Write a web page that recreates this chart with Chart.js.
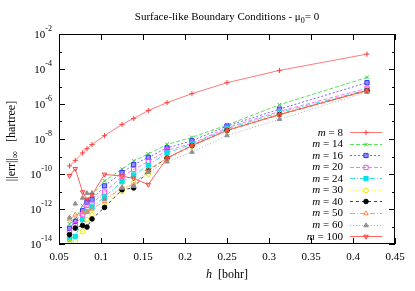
<!DOCTYPE html>
<html><head><meta charset="utf-8">
<script src="https://cdn.jsdelivr.net/npm/chart.js@4/dist/chart.umd.min.js"></script>
<style>html,body{margin:0;padding:0;background:#fff}</style>
</head><body>
<canvas id="c" width="415" height="291"></canvas>
<script>
// grid spacing h [bohr]
const hValues = [0.0625, 0.0694, 0.0781, 0.0833, 0.0893, 0.1042, 0.125, 0.1389, 0.1563, 0.1786, 0.2083, 0.25, 0.3125, 0.4167];
const seriesNames = ['8', '14', '16', '20', '24', '30', '40', '50', '60', '100'];
const m8   = [2.9e-10, 6.0e-10, 1.6e-9, 2.8e-9, 4.8e-9, 1.55e-8, 6.8e-8, 1.5e-7, 4.2e-7, 1.2e-6, 3.9e-6, 1.65e-5, 8.3e-5, 7.1e-4];
const m14  = [1.4e-13, 2.8e-13, 1.55e-12, 3.5e-12, 6.3e-12, 4.0e-11, 1.9e-10, 5.6e-10, 1.4e-9, 4.9e-9, 1.23e-8, 6.3e-8, 9.1e-7, 3.3e-5];
const m16  = [7.9e-14, 1.95e-13, 7.9e-13, 2.5e-12, 3.4e-12, 2.1e-11, 1.2e-10, 3.4e-10, 8.9e-10, 3.1e-9, 7.9e-9, 5.5e-8, 5.1e-7, 1.65e-5];
const m20  = [5.2e-14, 1.26e-13, 4.7e-13, 1.6e-12, 2.0e-12, 9.3e-12, 6.9e-11, 1.8e-10, 5.2e-10, 2.2e-9, 5.6e-9, 4.4e-8, 3.8e-7, 7.9e-6];
const m24  = [1.8e-14, 2.7e-14, 2.5e-13, 7.2e-13, 1.3e-12, 4.9e-12, 3.6e-11, 8.7e-11, 3.2e-10, 1.6e-9, 5.0e-9, 3.8e-8, 3.3e-7, 6.3e-6];
const m30  = [1.26e-14, 1.4e-14, 5.2e-14, 2.5e-13, 4.7e-13, 1.8e-12, 1.0e-11, 3.2e-11, 1.0e-10, 7.1e-10, 4.0e-9, 3.2e-8, 2.8e-7, 5.6e-6];
const m40  = [3.4e-14, 8.1e-14, 1.15e-13, 9.3e-14, 2.7e-13, 1.23e-12, 1.26e-11, 1.6e-11, 1.6e-10, 8.1e-10, 4.2e-9, 3.1e-8, 2.5e-7, 5.8e-6];
const m50  = [2.5e-13, 4.7e-13, 6.3e-13, 7.2e-13, 1.0e-12, 2.75e-12, 1.8e-11, 2.5e-11, 1.8e-10, 7.9e-10, 4.2e-9, 3.0e-8, 2.4e-7, 5.6e-6];
const m60  = [3.2e-13, 2.0e-12, 4.3e-12, 7.9e-12, 8.1e-12, 3.6e-12, 1.6e-11, 2.0e-11, 1.26e-10, 5.0e-10, 1.8e-9, 1.6e-8, 1.35e-7, 4.8e-6];
const m100 = [7.9e-11, 2.0e-10, 9.3e-12, 3.5e-12, 6.3e-12, 9.5e-11, 7.6e-11, 5.6e-11, 2.5e-11, 8.1e-10, 4.2e-9, 3.1e-8, 2.5e-7, 6.0e-6];
const yTickExponents = [-14, -13, -12, -11, -10, -9, -8, -7, -6, -5, -4, -3, -2];
const yLabelExponents = [-14, -12, -10, -8, -6, -4, -2];

const seriesValues = [m8, m14, m16, m20, m24, m30, m40, m50, m60, m100];
const styles = [
  {c:'#ff7a7a', pc:'#ff4040', dash:[], ps:'cross', bg:'rgba(0,0,0,0)', r:2.6},
  {c:'#5ae05a', pc:'#33cc33', dash:[4,2], ps:'crossRot', bg:'rgba(0,0,0,0)', r:2.6},
  {c:'#6a6aff', pc:'#3333ff', dash:[2,2], ps:'rect', bg:'#9090ff', r:3},
  {c:'#ff77ff', pc:'#ff44ff', dash:[4,2], ps:'rect', bg:'rgba(0,0,0,0)', r:3},
  {c:'#44dddd', pc:'#00e0e0', dash:[5,2,1,2], ps:'rect', bg:'#00e5e5', r:3},
  {c:'#eeee55', pc:'#e8e800', dash:[1,2], ps:'circle', bg:'rgba(0,0,0,0)', r:2.3},
  {c:'#444444', pc:'#000000', dash:[3,3], ps:'circle', bg:'#000000', r:2.3},
  {c:'#ffa070', pc:'#ff8844', dash:[5,2,1,2], ps:'triangle', bg:'rgba(0,0,0,0)', r:2.6},
  {c:'#b0b0b0', pc:'#909090', dash:[1,2], ps:'triangle', bg:'#909090', r:2.6},
  {c:'#ff6060', pc:'#ff3838', dash:[], ps:'triangle', bg:'rgba(0,0,0,0)', r:2.6, rot:180}
];

const datasets = seriesNames.map((name, i) => ({
  label: 'm = ' + name,
  data: hValues.map((h, j) => ({x: h, y: seriesValues[i][j]})),
  borderColor: styles[i].c,
  borderWidth: 1,
  borderDash: styles[i].dash,
  pointStyle: styles[i].ps,
  pointRadius: styles[i].r,
  pointRotation: styles[i].rot || 0,
  pointBorderColor: styles[i].pc,
  pointBackgroundColor: styles[i].bg,
  pointBorderWidth: 1,
  fill: false,
  tension: 0
})).reverse();

const SERIF = "'Liberation Serif', 'Times New Roman', serif";

const decor = {
  id: 'decor',
  afterDraw(chart) {
    const ctx = chart.ctx, a = chart.chartArea, xs = chart.scales.x, ys = chart.scales.y;
    ctx.save();
    ctx.strokeStyle = '#000'; ctx.lineWidth = 1; ctx.setLineDash([]);
    ctx.strokeRect(Math.round(a.left) + 0.5, Math.round(a.top) + 0.5, Math.round(a.right - a.left) - 1, Math.round(a.bottom - a.top) - 1);
    // x ticks
    ctx.beginPath();
    xs.ticks.forEach(t => {
      const px = Math.round(xs.getPixelForValue(t.value)) + 0.5;
      ctx.moveTo(px, a.bottom); ctx.lineTo(px, a.bottom - 6);
      ctx.moveTo(px, a.top); ctx.lineTo(px, a.top + 6);
    });
    // y ticks
    yTickExponents.forEach(e => {
      const py = Math.round(ys.getPixelForValue(Math.pow(10, e))) + 0.5;
      const len = (e % 2 === 0) ? 6 : 3;
      ctx.moveTo(a.left, py); ctx.lineTo(a.left + len, py);
      ctx.moveTo(a.right, py); ctx.lineTo(a.right - len, py);
    });
    ctx.stroke();
    // y labels
    ctx.fillStyle = '#000';
    ctx.textBaseline = 'alphabetic';
    yLabelExponents.forEach(e => {
      const py = ys.getPixelForValue(Math.pow(10, e));
      const sup = String(e);
      ctx.font = '8px ' + SERIF;
      const ws = ctx.measureText(sup).width;
      ctx.font = '11px ' + SERIF;
      const wb = ctx.measureText('10').width;
      const right = a.left - 7;
      ctx.textAlign = 'left';
      ctx.fillText('10', right - ws - wb, py + 3.5);
      ctx.font = '8px ' + SERIF;
      ctx.fillText(sup, right - ws, py - 3);
    });
    // title
    const cx = (a.left + a.right) / 2;
    ctx.font = '11px ' + SERIF;
    const t1 = 'Surface-like Boundary Conditions - \u03bc', t3 = '= 0';
    const w1 = ctx.measureText(t1).width, w3 = ctx.measureText(t3).width;
    ctx.font = '8px ' + SERIF;
    const w2 = ctx.measureText('0').width;
    let sx = cx - (w1 + w2 + w3) / 2;
    ctx.textAlign = 'left';
    ctx.font = '11px ' + SERIF; ctx.fillText(t1, sx, 20);
    ctx.font = '8px ' + SERIF; ctx.fillText('0', sx + w1, 23);
    ctx.font = '11px ' + SERIF; ctx.fillText(t3, sx + w1 + w2, 20);
    // x title
    ctx.font = 'italic 12px ' + SERIF;
    const wh = ctx.measureText('h').width;
    ctx.font = '12px ' + SERIF;
    const bo = '  [bohr]';
    const wbo = ctx.measureText(bo).width;
    sx = cx - (wh + wbo) / 2;
    ctx.font = 'italic 12px ' + SERIF; ctx.fillText('h', sx, 278);
    ctx.font = '12px ' + SERIF; ctx.fillText(bo, sx + wh, 278);
    // y title
    ctx.save();
    ctx.translate(15, (a.top + a.bottom) / 2 + 2);
    ctx.rotate(-Math.PI / 2);
    ctx.font = '12px ' + SERIF;
    const ya = '||err||', yc = '   [hartree]';
    const wa = ctx.measureText(ya).width, wc = ctx.measureText(yc).width;
    ctx.font = '10px ' + SERIF;
    const wi = ctx.measureText('\u221e').width;
    const st = -(wa + wi + wc) / 2;
    ctx.font = '12px ' + SERIF; ctx.fillText(ya, st, 0);
    ctx.font = '10px ' + SERIF; ctx.fillText('\u221e', st + wa, 3);
    ctx.font = '12px ' + SERIF; ctx.fillText(yc, st + wa + wi, 0);
    ctx.restore();
    // legend
    const lx1 = 350, lx2 = 382, lm = 366, textRight = 343, y0 = 132, dy = 11.57;
    seriesNames.forEach((name, i) => {
      const y = y0 + i * dy;
      const s = styles[i];
      ctx.font = 'italic 11px ' + SERIF;
      const wm = ctx.measureText('m').width;
      ctx.font = '11px ' + SERIF;
      const rest = ' = ' + name;
      const wr = ctx.measureText(rest).width;
      ctx.fillStyle = '#000';
      ctx.textAlign = 'left';
      ctx.font = 'italic 11px ' + SERIF; ctx.fillText('m', textRight - wr - wm, y + 3.5);
      ctx.font = '11px ' + SERIF; ctx.fillText(rest, textRight - wr, y + 3.5);
      ctx.strokeStyle = s.c; ctx.lineWidth = 1; ctx.setLineDash(s.dash);
      ctx.beginPath(); ctx.moveTo(lx1, Math.round(y) + 0.5); ctx.lineTo(lx2, Math.round(y) + 0.5); ctx.stroke();
      ctx.setLineDash([]);
      ctx.strokeStyle = s.pc; ctx.fillStyle = s.bg;
      if (Chart.helpers && Chart.helpers.drawPoint) {
        Chart.helpers.drawPoint(ctx, {pointStyle: s.ps, rotation: s.rot || 0, radius: s.r, borderWidth: 1}, lm, Math.round(y) + 0.5);
      }
    });
    ctx.restore();
  }
};

new Chart(document.getElementById('c'), {
  type: 'line',
  data: { datasets },
  options: {
    responsive: false,
    animation: false,
    devicePixelRatio: 1,
    layout: { padding: { left: 0, right: 20, top: 34, bottom: 0 } },
    plugins: { legend: { display: false }, title: { display: false }, tooltip: { enabled: false } },
    scales: {
      x: {
        type: 'linear', min: 0.05, max: 0.45,
        grid: { display: false, drawTicks: false },
        border: { display: false },
        ticks: { stepSize: 0.05, padding: 7, color: '#000', maxRotation: 0, autoSkip: false,
                 font: { family: SERIF, size: 11 },
                 callback: v => String(parseFloat(Number(v).toFixed(2))) },
        afterFit: s => { s.height = 47; }
      },
      y: {
        type: 'logarithmic', min: 1e-14, max: 1e-2,
        grid: { display: false, drawTicks: false },
        border: { display: false },
        ticks: { display: false },
        afterFit: s => { s.width = 59; }
      }
    }
  },
  plugins: [decor]
});
</script>
</body></html>
